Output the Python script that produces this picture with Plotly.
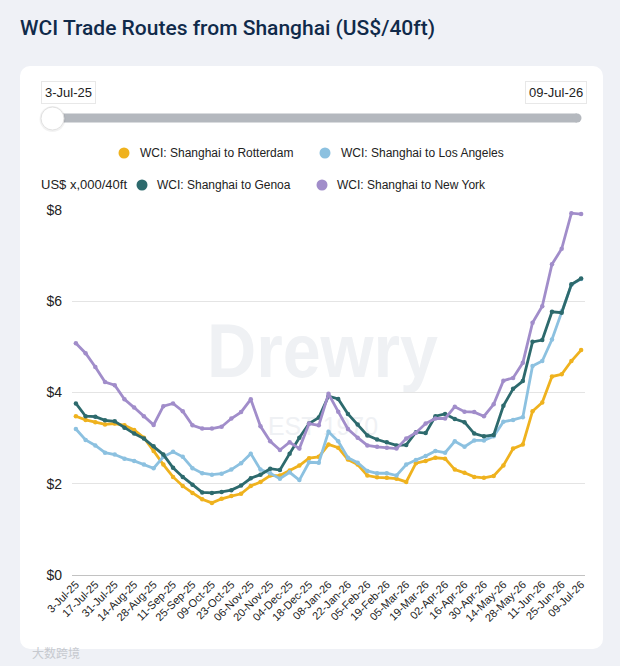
import base64
import plotly.graph_objects as go

# ---------------- data ----------------
dates = [
    "3-Jul-25", "10-Jul-25", "17-Jul-25", "24-Jul-25", "31-Jul-25", "07-Aug-25",
    "14-Aug-25", "21-Aug-25", "28-Aug-25", "04-Sep-25", "11-Sep-25", "18-Sep-25",
    "25-Sep-25", "02-Oct-25", "09-Oct-25", "16-Oct-25", "23-Oct-25", "30-Oct-25",
    "06-Nov-25", "13-Nov-25", "20-Nov-25", "27-Nov-25", "04-Dec-25", "11-Dec-25",
    "18-Dec-25", "25-Dec-25", "08-Jan-26", "15-Jan-26", "22-Jan-26", "29-Jan-26",
    "05-Feb-26", "12-Feb-26", "19-Feb-26", "26-Feb-26", "05-Mar-26", "12-Mar-26",
    "19-Mar-26", "26-Mar-26", "02-Apr-26", "09-Apr-26", "16-Apr-26", "23-Apr-26",
    "30-Apr-26", "07-May-26", "14-May-26", "21-May-26", "28-May-26", "04-Jun-26",
    "11-Jun-26", "18-Jun-26", "25-Jun-26", "02-Jul-26", "09-Jul-26",
]

rotterdam = [3.48, 3.40, 3.35, 3.30, 3.32, 3.28, 3.18, 3.01, 2.72, 2.42,
             2.15, 1.95, 1.80, 1.66, 1.58, 1.67, 1.73, 1.78, 1.95, 2.04,
             2.18, 2.18, 2.29, 2.40, 2.56, 2.59, 2.86, 2.79, 2.53, 2.42,
             2.18, 2.14, 2.13, 2.11, 2.04, 2.45, 2.50, 2.57, 2.55, 2.31,
             2.24, 2.15, 2.13, 2.17, 2.40, 2.77, 2.86, 3.59, 3.78, 4.35,
             4.40, 4.69, 4.93]
los_angeles = [3.20, 2.96, 2.84, 2.68, 2.64, 2.55, 2.50, 2.42, 2.34, 2.59,
               2.70, 2.59, 2.34, 2.23, 2.20, 2.22, 2.31, 2.45, 2.66, 2.31,
               2.23, 2.11, 2.25, 2.08, 2.47, 2.46, 3.14, 2.93, 2.57, 2.46,
               2.28, 2.23, 2.23, 2.18, 2.42, 2.52, 2.61, 2.72, 2.68, 2.93,
               2.81, 2.95, 2.95, 3.04, 3.36, 3.40, 3.46, 4.58, 4.69, 5.16,
               5.78, 6.36, 6.49]
genoa = [3.76, 3.48, 3.47, 3.39, 3.37, 3.23, 3.10, 2.99, 2.82, 2.64,
         2.35, 2.15, 1.98, 1.81, 1.80, 1.82, 1.86, 1.96, 2.12, 2.20,
         2.33, 2.30, 2.66, 3.01, 3.32, 3.45, 3.92, 3.86, 3.53, 3.30,
         3.06, 2.97, 2.91, 2.84, 2.85, 3.13, 3.11, 3.48, 3.53, 3.42,
         3.35, 3.10, 3.04, 3.07, 3.71, 4.08, 4.25, 5.11, 5.15, 5.77,
         5.75, 6.37, 6.50]
new_york = [5.08, 4.86, 4.56, 4.23, 4.16, 3.85, 3.67, 3.48, 3.29, 3.70,
            3.76, 3.59, 3.28, 3.21, 3.21, 3.25, 3.43, 3.57, 3.85, 3.26,
            2.93, 2.74, 2.91, 2.77, 3.32, 3.28, 3.97, 3.58, 3.20, 3.01,
            2.84, 2.81, 2.79, 2.77, 2.99, 3.12, 3.32, 3.43, 3.43, 3.69,
            3.58, 3.57, 3.48, 3.74, 4.26, 4.32, 4.65, 5.53, 5.89, 6.81,
            7.15, 7.93, 7.91]

series_names = ["WCI: Shanghai to Rotterdam", "WCI: Shanghai to Los Angeles",
                "WCI: Shanghai to Genoa", "WCI: Shanghai to New York"]
series_values = [rotterdam, los_angeles, genoa, new_york]
series_colors = ["#efb21e", "#8cc1e0", "#2d6a6d", "#a18dca"]

y_tick_values = [0, 2, 4, 6, 8]
y_tick_labels = ["$0", "$2", "$4", "$6", "$8"]
x_tick_labels = dates[::2]

title_text = "WCI Trade Routes from Shanghai (US$/40ft)"
unit_text = "US$ x,000/40ft"

# ---------------- geometry helpers ----------------
W, H = 620, 666
L, R, T, B = 72, 35, 210, 91
PW, PH = W - L - R, H - T - B


def px(x):
    return (x - L) / PW


def py(y):
    return (H - B - y) / PH


FONT = "Liberation Sans, Arial, sans-serif"

fig = go.Figure()
for name, vals, col in zip(series_names, series_values, series_colors):
    fig.add_trace(go.Scatter(
        x=dates, y=vals, name=name, mode="lines+markers",
        line=dict(color=col, width=2.8),
        marker=dict(color=col, size=4.5),
        showlegend=False, hoverinfo="x+y+name",
    ))

# card + watermark as a background image
svg = (
    '<svg xmlns="http://www.w3.org/2000/svg" width="583" height="583" viewBox="0 0 583 583">'
    '<rect x="0" y="0" width="583" height="583" rx="10" ry="10" fill="#ffffff"/>'
    '<text x="187" y="311" font-family="Liberation Sans, Arial, sans-serif" font-size="76" '
    'font-weight="bold" fill="#eff1f4" textLength="231" lengthAdjust="spacingAndGlyphs">Drewry</text>'
    '<text x="248" y="369" font-family="Liberation Sans, Arial, sans-serif" font-size="25" '
    'fill="#eff1f4" textLength="110" lengthAdjust="spacingAndGlyphs">EST 1970</text>'
    '</svg>'
)
src = "data:image/svg+xml;base64," + base64.b64encode(svg.encode()).decode()
fig.add_layout_image(dict(
    source=src, xref="paper", yref="paper", x=px(20), y=py(66),
    sizex=583 / PW, sizey=583 / PH, sizing="stretch",
    xanchor="left", yanchor="top", layer="below",
))

shapes = []


def circle(cx, cy, r, fill, line_color=None, lw=0):
    shapes.append(dict(
        type="circle", xref="paper", yref="paper",
        x0=px(cx - r), x1=px(cx + r), y0=py(cy + r), y1=py(cy - r),
        fillcolor=fill, line=dict(color=line_color or fill, width=lw),
    ))


# slider track
shapes.append(dict(type="rect", xref="paper", yref="paper",
                   x0=px(52), x1=px(577), y0=py(122.5), y1=py(113.5),
                   fillcolor="#b4b8be", line=dict(width=0)))
circle(577, 118, 4.5, "#b4b8be")
# slider handle
circle(52.5, 119, 13, "rgba(0,0,0,0.05)")
circle(52.5, 118.5, 11.5, "#ffffff", "#e0e0e0", 1)

# legend dots
legend_pos = [(124, 153), (325, 153), (142, 185), (322, 185)]
for (cx, cy), col in zip(legend_pos, series_colors):
    circle(cx, cy, 5.5, col)

annotations = []


def text(x, y, s, size, color="#222222", xanchor="left", family=FONT, weight=None, **kw):
    f = dict(size=size, color=color, family=family)
    if weight:
        f["weight"] = weight
    annotations.append(dict(
        x=px(x), y=py(y), xref="paper", yref="paper", text=s, showarrow=False,
        xanchor=xanchor, yanchor="middle", font=f, **kw))


text(18, 28, title_text, 21, "#102a4a", family="Roboto, Arial, sans-serif", weight=500)
text(68.5, 92, dates[0], 13, "#222222", xanchor="center",
     bgcolor="#ffffff", bordercolor="#e8e8e8", borderwidth=1, borderpad=3)
text(556, 92, dates[-1], 13, "#222222", xanchor="center",
     bgcolor="#ffffff", bordercolor="#e8e8e8", borderwidth=1, borderpad=3)

legend_text_x = [138, 339, 155, 335]
for (cx, cy), tx, name in zip(legend_pos, legend_text_x, series_names):
    text(tx, cy, name, 12, "#222222")
text(39, 185, unit_text, 13, "#222222")
text(30, 652, "大数跨境", 12, "#c6c9cf", family="Noto Sans CJK SC")

fig.update_layout(
    width=W, height=H,
    margin=dict(l=L, r=R, t=T, b=B, autoexpand=False),
    paper_bgcolor="#eff1f6", plot_bgcolor="rgba(0,0,0,0)",
    shapes=shapes, annotations=annotations,
    showlegend=False,
    xaxis=dict(
        type="category", categoryorder="array", categoryarray=dates,
        range=[-0.4, len(dates) - 1 + 0.4],
        tickmode="array", tickvals=x_tick_labels, ticktext=x_tick_labels,
        tickangle=-45, tickfont=dict(size=11, color="#222222", family=FONT),
        showgrid=False, showline=False, zeroline=False, ticks="", automargin=False,
    ),
    yaxis=dict(
        range=[0, 8], tickmode="array", tickvals=y_tick_values, ticktext=y_tick_labels,
        tickfont=dict(size=14, color="#222222", family=FONT),
        showgrid=True, gridcolor="#e4e4e4", gridwidth=1,
        zeroline=True, zerolinecolor="#c2c2c2", zerolinewidth=1,
        showline=False, ticks="", automargin=False, ticklabelstandoff=9,
    ),
)

fig.write_html("out.html")
